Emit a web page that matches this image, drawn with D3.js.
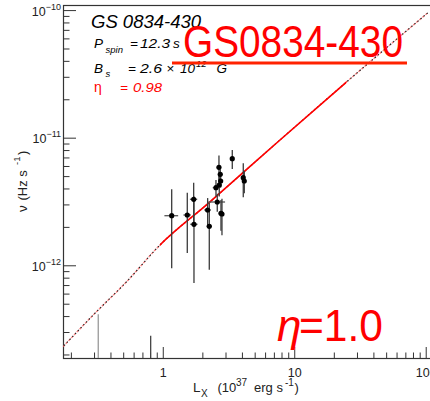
<!DOCTYPE html>
<html>
<head>
<meta charset="utf-8">
<script src="https://cdn.jsdelivr.net/npm/d3@7"></script>
<style>
  body { margin: 0; background: #fff; }
  svg { display: block; }
  text { font-family: "Liberation Sans", Arial, Helvetica, sans-serif; }
</style>
</head>
<body>
<svg id="chart" width="430" height="401"></svg>
<script>
// Spin-up rate of GS 0834-430 against X-ray luminosity (10^37 erg/s)
const lum      = [1.169, 1.536, 1.718, 1.727, 2.194, 2.258, 2.675, 2.737, 2.756, 2.689, 2.539, 2.597, 2.771, 2.820, 3.378, 4.095, 4.168];
const lumErr   = [0.14, 0.10, 0.11, 0.11, 0.13, 0.10, 0.08, 0.08, 0.08, 0.10, 0.14, 0.38, 0.08, 0.08, 0.07, 0.10, 0.10];
const nuDot    = [2.447e-12, 2.478e-12, 3.291e-12, 2.096e-12, 2.713e-12, 2.021e-12, 5.861e-12, 5.164e-12, 4.577e-12, 4.259e-12, 4.056e-12, 3.133e-12, 2.555e-12, 2.523e-12, 6.846e-12, 4.857e-12, 4.577e-12];
const nuDotErr = [1.50e-12, 1.23e-12, 1.15e-12, 1.37e-12, 0.65e-12, 1.10e-12, 1.40e-12, 0.50e-12, 0.50e-12, 0.80e-12, 0.60e-12, 0.50e-12, 0.69e-12, 0.80e-12, 1.15e-12, 1.44e-12, 0.91e-12];

// Upper error bars of measurements lying below the plotted range
const lowL   = [0.323, 0.809];
const lowTop = [4.13e-13, 2.81e-13];
const lowShade = ["#9a9a9a", "#444"];

// Accretion-torque model curve (eta = 0.98)
const modelL  = [0.1742, 0.296, 0.531, 0.952, 2.218, 7.79, 26.5, 104];
const modelNu = [2.30e-13, 4.08e-13, 7.44e-13, 1.442e-12, 3.06e-12, 9.59e-12, 2.88e-11, 9.54e-11];
const solidRange = [0.95, 25];

// Axis decorations
const xMajor = [1, 10, 100];
const xMajorLabels = ["1", "10", "100"];
const yMajor = [1e-12, 1e-11, 1e-10];
const yMajorExp = ["\u221212", "\u221211", "\u221210"];

const svg = d3.select("#chart");
const x = d3.scaleLog().domain([0.1742, 124]).range([63, 438]);
const y = d3.scaleLog().domain([1.877e-13, 1.096e-10]).range([358, 5]);

const axisCol = "#333";
const [x0, x1] = x.range();
const [yb, yt] = y.range();

// clip to plotting frame
const defs = svg.append("defs");
defs.append("clipPath").attr("id", "frame")
  .append("rect").attr("x", x0).attr("y", yt).attr("width", x1 - x0).attr("height", yb - yt);
defs.append("clipPath").attr("id", "solid")
  .append("rect").attr("x", x(solidRange[0])).attr("y", yt)
  .attr("width", x(solidRange[1]) - x(solidRange[0])).attr("height", yb - yt);

// frame
svg.append("rect").attr("x", x0 + 0.5).attr("y", yt + 0.5)
  .attr("width", x1 - x0).attr("height", yb - yt)
  .attr("fill", "none").attr("stroke", axisCol).attr("stroke-width", 1.2);

// x axis ticks (pointing into the frame)
const xMinor = x.ticks().filter(v => !xMajor.some(m => Math.abs(v / m - 1) < 1e-6));
svg.append("g").attr("transform", `translate(0,${yb})`)
  .call(d3.axisBottom(x).tickValues(xMinor).tickSizeInner(-5.5).tickSizeOuter(0).tickFormat(""))
  .call(g => g.select(".domain").remove())
  .selectAll("line").attr("stroke", axisCol);
const gxM = svg.append("g").attr("transform", `translate(0,${yb})`)
  .call(d3.axisBottom(x).tickValues(xMajor).tickSizeInner(-11).tickSizeOuter(0).tickPadding(10)
        .tickFormat((d, i) => xMajorLabels[i]))
  .call(g => g.select(".domain").remove());
gxM.selectAll("line").attr("stroke", axisCol);
gxM.selectAll("text").attr("fill", "#222").attr("font-size", 12.5)
  .attr("font-family", '"Liberation Sans", Arial, sans-serif');

// y axis ticks
const yMinor = y.ticks().filter(v => !yMajor.some(m => Math.abs(v / m - 1) < 1e-6));
svg.append("g").attr("transform", `translate(${x0},0)`)
  .call(d3.axisLeft(y).tickValues(yMinor).tickSizeInner(-6.5).tickSizeOuter(0).tickFormat(""))
  .call(g => g.select(".domain").remove())
  .selectAll("line").attr("stroke", axisCol);
svg.append("g").attr("transform", `translate(${x0},0)`)
  .call(d3.axisLeft(y).tickValues(yMajor).tickSizeInner(-13).tickSizeOuter(0).tickFormat(""))
  .call(g => g.select(".domain").remove())
  .selectAll("line").attr("stroke", axisCol);

// y tick labels 10^n
yMajor.forEach((v, i) => {
  const t = svg.append("text").attr("x", 61).attr("y", y(v) + 5.5)
    .attr("text-anchor", "end").attr("fill", "#222").attr("font-size", 12.5);
  t.append("tspan").text("10");
  t.append("tspan").attr("dy", -6).attr("font-size", 9).text(yMajorExp[i]);
});

// axis titles
const xt = svg.append("g").attr("fill", "#222");
xt.append("text").attr("x", 193).attr("y", 392).attr("font-size", 13.5).text("L");
xt.append("text").attr("x", 201).attr("y", 396.5).attr("font-size", 10).text("X");
xt.append("text").attr("x", 217.5).attr("y", 392).attr("font-size", 13).text("(10");
xt.append("text").attr("x", 236).attr("y", 385.5).attr("font-size", 10).text("37");
xt.append("text").attr("x", 254).attr("y", 392).attr("font-size", 13).text("erg s");
xt.append("text").attr("x", 285).attr("y", 385.5).attr("font-size", 10).text("-1");
xt.append("text").attr("x", 294.5).attr("y", 392).attr("font-size", 13).text(")");

const yt2 = svg.append("g").attr("fill", "#222").attr("transform", "translate(26.5,212) rotate(-90)");
yt2.append("text").attr("x", 0).attr("y", 0).attr("font-size", 13.5).text("\u03bd");
yt2.append("text").attr("x", 11.5).attr("y", 0).attr("font-size", 13).text("(Hz s");
yt2.append("text").attr("x", 47).attr("y", -6.5).attr("font-size", 9.5).text("-1");
yt2.append("text").attr("x", 57).attr("y", 0).attr("font-size", 13).text(")");

// error bars of below-range points
const plot = svg.append("g").attr("clip-path", "url(#frame)");
lowL.forEach((L, i) => {
  plot.append("line").attr("x1", x(L)).attr("x2", x(L)).attr("y1", yb).attr("y2", y(lowTop[i]))
    .attr("stroke", lowShade[i]).attr("stroke-width", 1.3);
});

// model curve: dashed outside the data range, solid red inside
const model = modelL.map((L, i) => [L, modelNu[i]]);
const line = d3.line().x(d => x(d[0])).y(d => y(d[1])).curve(d3.curveMonotoneX);
plot.append("path").attr("d", line(model)).attr("fill", "none")
  .attr("stroke", "#ff5a5a").attr("stroke-opacity", 0.75).attr("stroke-width", 1.4)
  .attr("stroke-dasharray", "2.5 1.5");
plot.append("path").attr("d", line(model)).attr("fill", "none")
  .attr("stroke", "#222").attr("stroke-width", 1.1).attr("stroke-dasharray", "1.5 2.5")
  .attr("stroke-dashoffset", 2.5);
plot.append("path").attr("d", line(model)).attr("fill", "none").attr("clip-path", "url(#solid)")
  .attr("stroke", "#ff0000").attr("stroke-width", 1.6);

// measurements with error bars
const pts = plot.append("g");
lum.forEach((L, i) => {
  const v = nuDot[i], e = nuDotErr[i], ex = lumErr[i];
  pts.append("line").attr("x1", x(L)).attr("x2", x(L)).attr("y1", y(v - e)).attr("y2", y(v + e))
    .attr("stroke", "#3a3a3a").attr("stroke-width", 1.3);
  pts.append("line").attr("x1", x(L - ex)).attr("x2", x(L + ex)).attr("y1", y(v)).attr("y2", y(v))
    .attr("stroke", "#555").attr("stroke-width", 1.3);
});
lum.forEach((L, i) => {
  pts.append("circle").attr("cx", x(L)).attr("cy", y(nuDot[i])).attr("r", 2.6).attr("fill", "#000");
});

// legend text block
const info = svg.append("g").attr("font-style", "italic").attr("fill", "#000");
info.append("text").attr("x", 91).attr("y", 28).attr("font-size", 18.5).text("GS 0834-430");
info.append("text").attr("x", 94).attr("y", 48.3).attr("font-size", 13.5).text("P");
info.append("text").attr("x", 105.5).attr("y", 53).attr("font-size", 9.5).text("spin");
info.append("text").attr("x", 130).attr("y", 48.3).attr("font-size", 13.5).text("=");
info.append("text").attr("x", 140).attr("y", 48.3).attr("font-size", 13.5)
  .attr("textLength", 30).attr("lengthAdjust", "spacingAndGlyphs").text("12.3");
info.append("text").attr("x", 173).attr("y", 48.3).attr("font-size", 13.5).text("s");
info.append("text").attr("x", 94).attr("y", 72.7).attr("font-size", 13.5).text("B");
info.append("text").attr("x", 105.5).attr("y", 77).attr("font-size", 9.5).text("s");
info.append("text").attr("x", 128).attr("y", 72.7).attr("font-size", 13.5).text("=");
info.append("text").attr("x", 140).attr("y", 72.7).attr("font-size", 13.5)
  .attr("textLength", 22).attr("lengthAdjust", "spacingAndGlyphs").text("2.6");
info.append("text").attr("x", 166.5).attr("y", 72.7).attr("font-size", 13.5).attr("font-style", "normal").text("\u00d7");
info.append("text").attr("x", 180).attr("y", 72.7).attr("font-size", 13.5).text("10");
info.append("text").attr("x", 196).attr("y", 66.5).attr("font-size", 9.5).text("12");
info.append("text").attr("x", 216.5).attr("y", 72.7).attr("font-size", 13.5).text("G");
const eta = info.append("g").attr("fill", "#ff0000");
eta.append("text").attr("x", 94).attr("y", 91.7).attr("font-size", 14).attr("font-style", "normal").text("\u03b7");
eta.append("text").attr("x", 120).attr("y", 91.7).attr("font-size", 13.5).text("=");
eta.append("text").attr("x", 133).attr("y", 91.7).attr("font-size", 13.5)
  .attr("textLength", 29).attr("lengthAdjust", "spacingAndGlyphs").text("0.98");

// source name and eta annotation
const ann = svg.append("g").attr("fill", "#ff0000");
ann.append("text").attr("x", 183).attr("y", 57).attr("font-size", 44)
  .attr("font-family", "Lato, 'Open Sans', sans-serif")
  .attr("textLength", 220).attr("lengthAdjust", "spacingAndGlyphs").text("GS0834-430");
svg.append("line").attr("x1", 172).attr("x2", 407).attr("y1", 63).attr("y2", 63)
  .attr("stroke", "#ff2200").attr("stroke-width", 2.8);
ann.append("text").attr("x", 277).attr("y", 341).attr("font-size", 44)
  .attr("font-family", "'Liberation Serif', 'DejaVu Serif', serif").attr("font-style", "italic").text("\u03b7");
ann.append("text").attr("x", 299).attr("y", 341).attr("font-size", 44)
  .attr("font-family", "Lato, 'Open Sans', sans-serif")
  .attr("textLength", 84).attr("lengthAdjust", "spacingAndGlyphs").text("=1.0");
</script>
</body>
</html>
